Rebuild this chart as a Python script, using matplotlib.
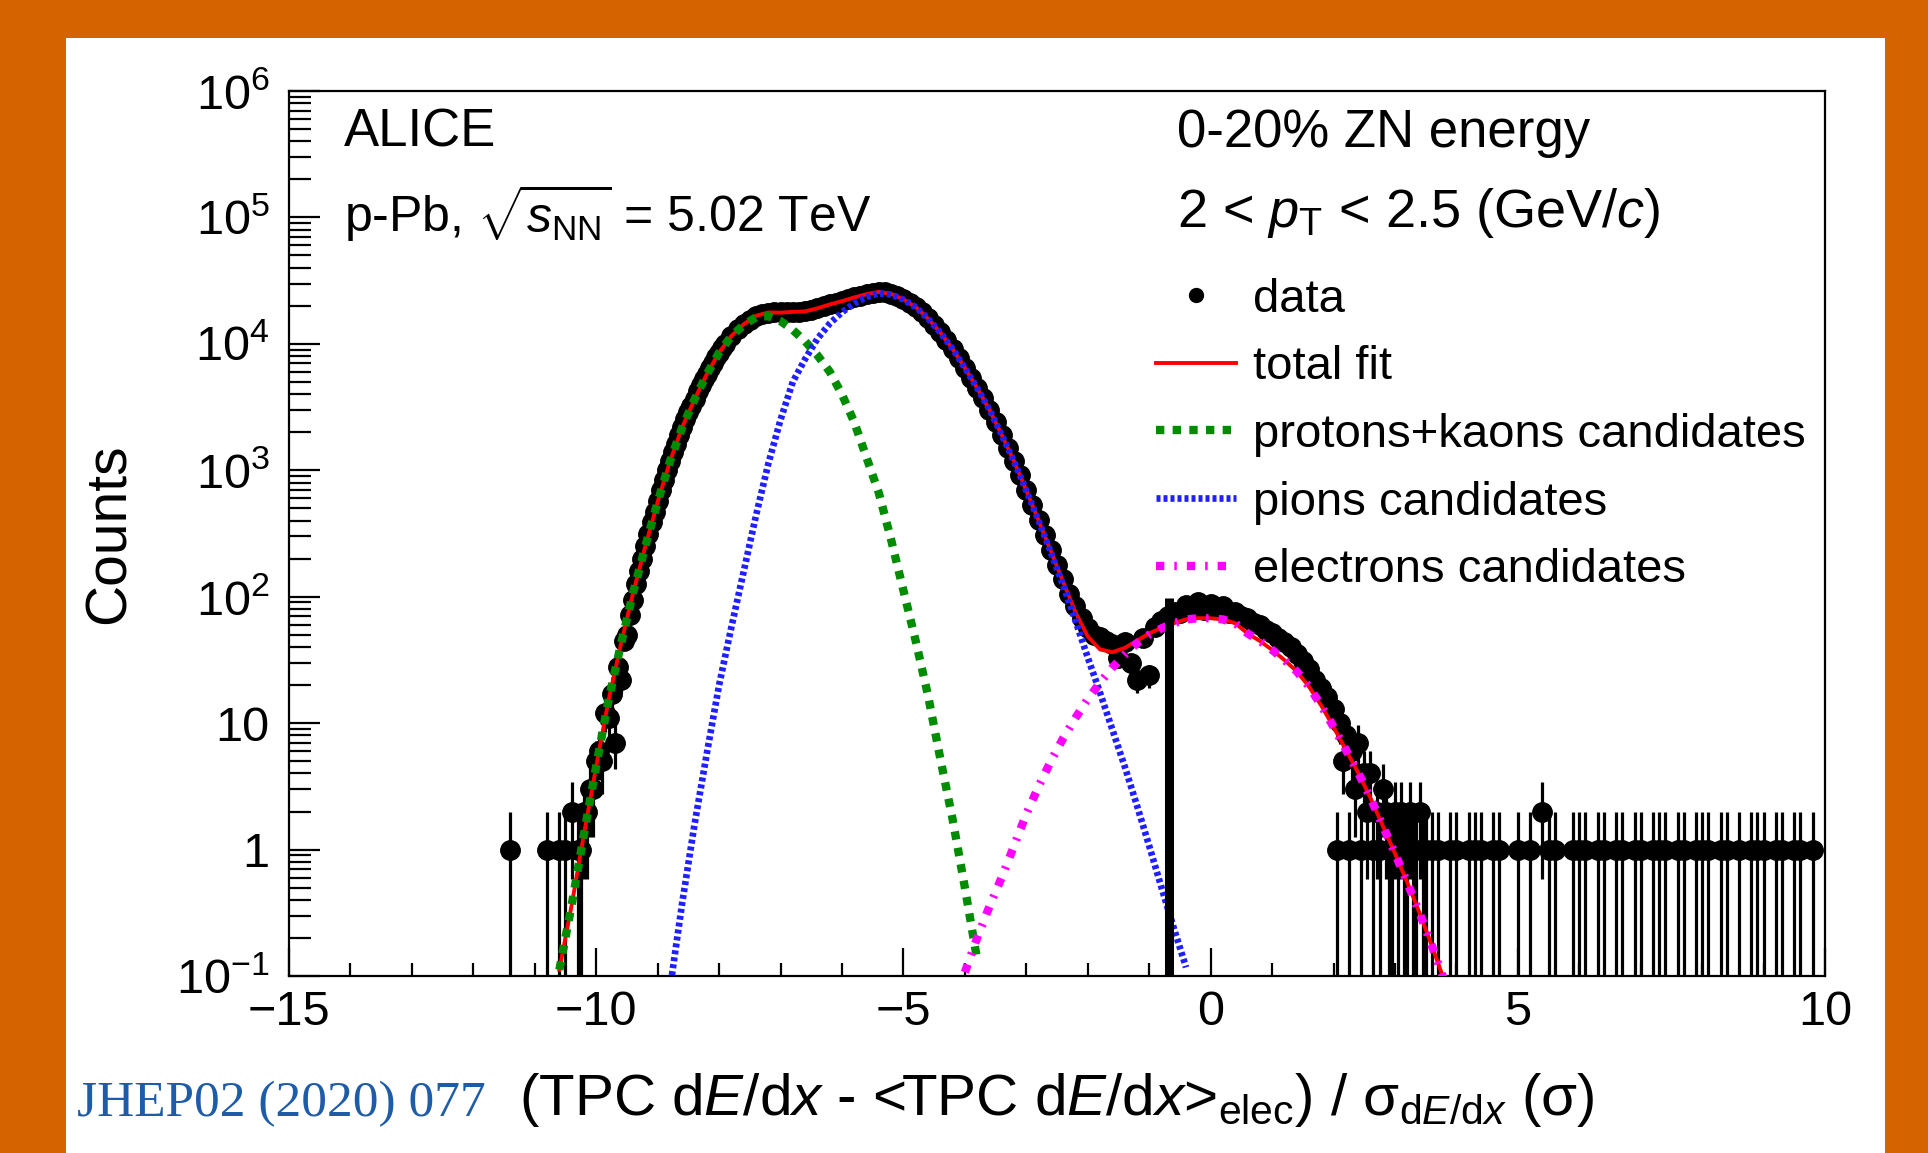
import numpy as np
import matplotlib.pyplot as plt
from matplotlib.lines import Line2D
from matplotlib.patches import Rectangle
from matplotlib.ticker import LogLocator, MultipleLocator, NullFormatter

plt.rcParams['font.family'] = 'Liberation Sans'
plt.rcParams['mathtext.fontset'] = 'custom'
plt.rcParams['mathtext.rm'] = 'Liberation Sans'
plt.rcParams['mathtext.it'] = 'Liberation Sans:italic'
plt.rcParams['mathtext.sf'] = 'Liberation Sans'
plt.rcParams['mathtext.bf'] = 'Liberation Sans:bold'

# ---- data histogram ----
# main bins (centres every 0.1)
body_x = np.round(np.arange(-10.8, 3.75, 0.1), 1)
body_counts = [
    1, 0, 1, 1, 2, 1, 2, 3, 5, 5,
    11, 7, 22, 50, 95, 160, 250, 390, 570, 840,
    1180, 1620, 2200, 2900, 3650, 4700, 5800, 7100, 8500, 10000,
    11500, 13000, 14300, 15500, 16500, 17200, 17600, 17700, 17700, 17800,
    17900, 18000, 18100, 18600, 19100, 19800, 20500, 21100, 21800, 22600,
    23300, 24000, 24700, 25300, 25700, 25500, 24800, 23800, 22500, 21100,
    19500, 17700, 15900, 14100, 12300, 10700, 9100, 7700, 6450, 5400,
    4480, 3700, 3000, 2400, 1900, 1500, 1180, 910, 700, 530,
    405, 305, 235, 178, 138, 105, 84, 68, 57, 50,
    48, 45, 42, 33, 44, 30, 22, 47, 24, 58,
    64, 70, 76, 74, 86, 80, 90, 78, 88, 80,
    84, 74, 76, 70, 68, 62, 60, 55, 52, 47,
    44, 40, 35, 31, 27, 22, 19, 16, 13, 10,
    8, 6, 7, 4, 4, 2, 3, 1, 2, 2,
    1, 1, 2, 1, 1, 1,
]
# in-between bins on the steep left edge and in the electron tail
half_x = [-10.25, -10.15, -10.05, -9.95, -9.85, -9.75, -9.65, -9.55, -9.45, -9.35,
          -9.25, -9.15, -9.05, -8.95, -8.85, -8.75, -8.65, -8.55, -8.45, -8.35,
          -8.25, -8.15, -8.05, -7.95,
          2.05, 2.15, 2.25, 2.35, 2.45, 2.55, 2.65, 2.75, 2.85, 2.95,
          3.05, 3.15, 3.25, 3.35, 3.45]
half_counts = [1, 2, 3, 6, 12, 17, 28, 45, 72, 125,
               200, 315, 470, 700, 1000, 1400, 1900, 2550, 3250, 4200,
               5250, 6450, 7800, 9200,
               1, 5, 1, 3, 1, 2, 1, 1, 2, 1,
               1, 1, 2, 1, 1]
# isolated entries far out in the tails
tail_x = [-11.4, 3.9, 4.0, 4.2, 4.3, 4.4, 4.6, 4.7, 5.0, 5.2, 5.4, 5.5, 5.6,
          5.9, 6.0, 6.1, 6.3, 6.4, 6.6, 6.7, 6.9, 7.0, 7.2, 7.3, 7.4, 7.6,
          7.7, 7.9, 8.0, 8.1, 8.3, 8.4, 8.6, 8.8, 8.9, 9.0, 9.2, 9.3, 9.5,
          9.6, 9.8]
tail_counts = [1, 1, 1, 1, 1, 1, 1, 1, 1, 1, 2, 1, 1,
               1, 1, 1, 1, 1, 1, 1, 1, 1, 1, 1, 1, 1,
               1, 1, 1, 1, 1, 1, 1, 1, 1, 1, 1, 1, 1,
               1, 1]
spike_x = -0.67
spike_top = 98

# ---- fit components (step 0.2) ----
pk_x = np.round(np.arange(-10.6, -3.75, 0.2), 1)
pk_y = [0.112, 0.363, 1.32, 4.57, 15.1, 41.7, 107, 251, 562, 1175,
        2188, 3631, 5754, 8511, 11482, 14125, 16218, 16596, 15136, 12882,
        10471, 8128, 6026, 3981, 2399, 1259, 661, 282, 112, 44.7,
        16.6, 5.25, 1.74, 0.501, 0.135]

pi_x = np.round(np.arange(-8.8, -0.35, 0.2), 1)
pi_y = [0.079, 0.380, 1.58, 5.75, 20.0, 57.5, 158, 437, 1122, 2512,
        5012, 7586, 10965, 14454, 17783, 20893, 23442, 25119, 24547, 22387,
        19498, 15849, 12303, 9120, 6457, 4467, 3020, 1905, 1175, 692,
        398, 224, 123, 64.6, 33.1, 17.4, 8.91, 4.57, 2.24, 1.07,
        0.501, 0.240, 0.117]

el_x = np.round(np.arange(-4.0, 3.85, 0.2), 1)
el_y = [0.107, 0.200, 0.355, 0.603, 1.07, 1.91, 3.16, 5.01, 7.59, 11.0,
        15.5, 20.9, 27.5, 34.7, 42.7, 50.1, 56.2, 61.7, 66.1, 67.6,
        67.6, 66.1, 61.7, 51.3, 44.7, 38.0, 31.6, 25.7, 19.5, 13.8,
        9.33, 6.17, 4.07, 2.57, 1.55, 0.933, 0.550, 0.316, 0.174, 0.093]

fit_x = np.round(np.arange(-10.6, 3.85, 0.2), 1)
fit_y = [0.112, 0.363, 1.32, 4.57, 15.1, 41.7, 107, 251, 562, 1175,
         2188, 3633, 5760, 8531, 11540, 14280, 16655, 17718, 17648, 17894,
         18057, 19093, 20480, 21764, 23292, 24701, 25780, 24829, 22499, 19543,
         15866, 12308, 9122, 6457, 4467, 3020, 1906, 1176, 694, 401,
         229, 131, 75.6, 48.6, 38.3, 36.4, 39.3, 44.9, 51.2, 56.7,
         61.9, 66.2, 67.6, 67.6, 66.1, 61.7, 51.3, 44.7, 38.0, 31.6,
         25.7, 19.5, 13.8, 9.33, 6.17, 4.07, 2.57, 1.55, 0.933, 0.550,
         0.316, 0.174, 0.093]

ytick_vals = [0.1, 1, 10, 100, 1e3, 1e4, 1e5, 1e6]
ytick_labels = ['$10^{-1}$', '1', '10', '$10^{2}$', '$10^{3}$', '$10^{4}$', '$10^{5}$', '$10^{6}$']

# line styles
pk_style = dict(color='#008c00', lw=6.0, linestyle=(0, (1.0, 1.0)))
pi_style = dict(color='#1f1fff', lw=4.8, linestyle=(0, (0.6, 0.45)))
el_style = dict(color='#ff00ff', lw=6.0, linestyle=(0, (1.0, 1.2, 0.3, 1.2)))
fit_style = dict(color='#ff0000', lw=2.8)

# ---- figure ----
fig = plt.figure(figsize=(19.28, 11.53), dpi=100, facecolor='#d46300')
fig.patches.append(Rectangle((0.0342, 0.0), 0.9434, 0.967, transform=fig.transFigure,
                             facecolor='white', edgecolor='none', zorder=-5))
ax = fig.add_axes([0.1499, 0.1535, 0.7967, 0.7676])
ax.set_facecolor('none')

bx = np.array(body_x)
bc = np.array(body_counts, dtype=float)
keep = bc > 0
all_x = np.concatenate([bx[keep], half_x, tail_x])
all_c = np.concatenate([bc[keep], half_counts, tail_counts]).astype(float)
ax.errorbar(all_x, all_c, yerr=np.sqrt(all_c), xerr=0.05, fmt='o', color='black',
            ms=14, elinewidth=2.3, capsize=0, zorder=2)

ax.plot(fit_x, fit_y, zorder=3, **fit_style)
ax.plot(pk_x, pk_y, zorder=4, **pk_style)
ax.plot(pi_x, pi_y, zorder=5, **pi_style)
ax.plot(el_x, el_y, zorder=6, **el_style)
ax.vlines([spike_x], [0.05], [spike_top], color='black', lw=6.5, zorder=7)

ax.set_yscale('log')
ax.set_xlim(-15, 10)
ax.set_ylim(0.1, 1e6)
ax.set_yticks(ytick_vals)
ax.set_yticklabels(ytick_labels)
ax.yaxis.set_minor_locator(LogLocator(base=10, subs=np.arange(2, 10)))
ax.yaxis.set_minor_formatter(NullFormatter())
ax.xaxis.set_major_locator(MultipleLocator(5))
ax.xaxis.set_minor_locator(MultipleLocator(1))
ax.tick_params(which='both', direction='in', top=False, right=False, labelsize=35, width=1.6)
ax.tick_params(axis='x', which='major', length=20, pad=10)
ax.tick_params(axis='x', which='minor', length=9.5)
ax.tick_params(axis='y', which='major', length=22, pad=14)
ax.tick_params(axis='y', which='minor', length=16)
for s in ax.spines.values():
    s.set_linewidth(1.6)

ax.set_ylabel('Counts', fontsize=41, labelpad=28)
ax.set_xlabel('(TPC d$E$/d$x$ - <TPC d$E$/d$x$>$_{\\mathrm{elec}}$) / '
              'σ$_{\\mathrm{d}E/\\mathrm{d}x}$ (σ)', fontsize=42, labelpad=26)

ax.text(0.0358, 0.953, 'ALICE', transform=ax.transAxes, fontsize=38, va='center')
ax.text(0.0358, 0.862, 'p-Pb, $\\sqrt{s_{\\mathrm{NN}}}$ = 5.02 TeV', transform=ax.transAxes,
        fontsize=36, va='center')
ax.text(0.578, 0.953, '0-20% ZN energy', transform=ax.transAxes, fontsize=38, va='center')
ax.text(0.578, 0.862, '2 < $p_{\\mathrm{T}}$ < 2.5 (GeV/$c$)', transform=ax.transAxes,
        fontsize=39, va='center')

handles = [
    Line2D([], [], marker='o', color='black', ms=10, linestyle='none'),
    Line2D([], [], **fit_style),
    Line2D([], [], **pk_style),
    Line2D([], [], **pi_style),
    Line2D([], [], **el_style),
]
labels = ['data', 'total fit', 'protons+kaons candidates', 'pions candidates', 'electrons candidates']
ax.legend(handles, labels, loc='upper left', bbox_to_anchor=(0.5645, 0.789), frameon=False,
          fontsize=34, handlelength=1.7, handletextpad=0.35, labelspacing=0.5,
          borderpad=0, borderaxespad=0)

fig.text(0.040, 0.043, 'JHEP02 (2020) 077', fontsize=37, color='#1f5ca8',
         family='Liberation Serif', va='center')

fig.savefig('out.png', dpi=100, facecolor=fig.get_facecolor())
